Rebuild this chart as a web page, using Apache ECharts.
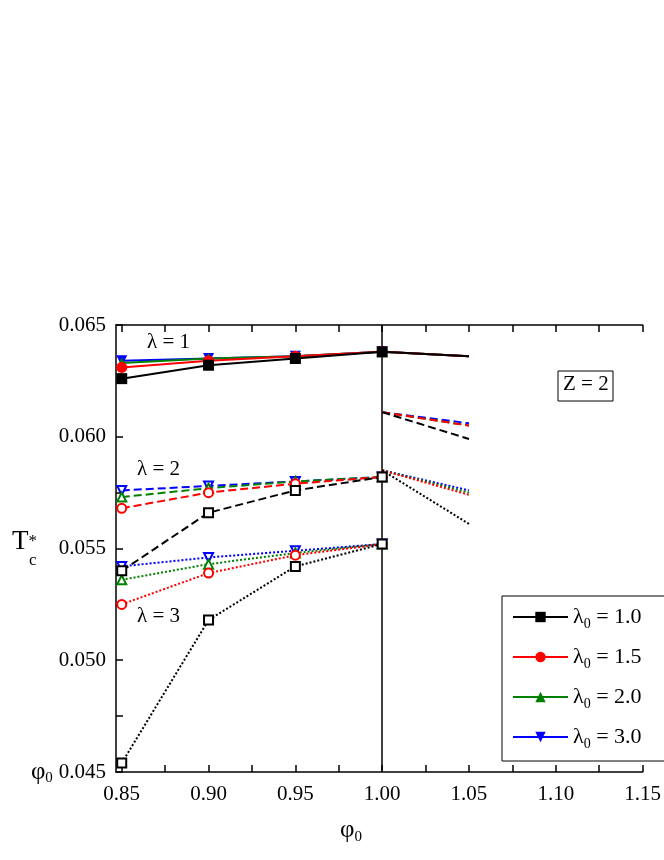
<!DOCTYPE html>
<html><head><meta charset="utf-8">
<script src="https://cdn.jsdelivr.net/npm/echarts@6/dist/echarts.min.js"></script>
<style>html,body{margin:0;padding:0;background:#fff;overflow:hidden}#c{width:664px;height:860px}</style>
</head><body><div id="c"></div>
<script>
const xLeft = [0.85, 0.90, 0.95, 1.00];
const xRight = [1.00, 1.05];
const lambda0 = ['1.0', '1.5', '2.0', '3.0'];
const colors = ['#000000', '#ff0000', '#008000', '#0000ff'];
// Z=1 (left) region
const solid1 = [[0.0626,0.0632,0.0635,0.0638],[0.0631,0.0634,0.0636,0.0638],[0.0633,0.0635,0.0636,0.0638],[0.0634,0.0635,0.0636,0.0638]];
const dashed2 = [[0.0540,0.0566,0.0576,0.0582],[0.0568,0.0575,0.0579,0.0582],[0.0573,0.0577,0.0580,0.0582],[0.0576,0.0578,0.0580,0.0582]];
const dotted3 = [[0.0454,0.0518,0.0542,0.0552],[0.0525,0.0539,0.0547,0.0552],[0.0536,0.0543,0.0548,0.0552],[0.0542,0.0546,0.0549,0.0552]];
// Z=2 (right) region
const solidZ2 = [[0.0638,0.0636],[0.0638,0.0636],[0.0638,0.0636],[0.0638,0.0636]];
const dashedZ2 = [[0.0611,0.0599],[0.0611,0.0605],[0.0611,0.0605],[0.0611,0.0606]];
const dottedZ2 = [[0.0585,0.0561],[0.0585,0.0574],[0.0585,0.0575],[0.0585,0.0576]];

const filled = ['rect','circle','triangle','triangle'];
const empty = ['emptyRect','emptyCircle','emptyTriangle','emptyTriangle'];
const rot = [0,0,0,180];
const F = 'Liberation Serif';
const series = [];
function add(xs, ys, i, type, sym, name, showSym){
  series.push({
    type:'line', name:name, data: xs.map((x,k)=>[x, ys[k]]),
    symbol: sym, showSymbol: showSym, symbolSize: sym.startsWith('empty') ? 9 : 11, symbolRotate: rot[i],
    itemStyle:{color:colors[i], borderWidth: sym.startsWith('empty')?1.5:1},
    lineStyle:{color:colors[i], width:2, type:type},
    z: 10 - i
  });
}
for (let i=0;i<4;i++){
  const n = lambda0[i];
  add(xLeft, solid1[i], i, 'solid', filled[i], n, true);
  add(xLeft, dashed2[i], i, 'dashed', empty[i], n, true);
  add(xLeft, dotted3[i], i, 'dotted', empty[i], n, true);
  add(xRight, solidZ2[i], i, 'solid', filled[i], n, false);
  add(xRight, dashedZ2[i], i, 'dashed', empty[i], n, false);
  add(xRight, dottedZ2[i], i, 'dotted', empty[i], n, false);
}
series[0].markLine = {silent:true, symbol:'none', label:{show:false},
  lineStyle:{color:'#000', width:1.5, type:'solid'}, data:[{xAxis:1.0}]};

const majors = [0.85,0.90,0.95,1.00,1.05,1.10,1.15];
const ticks = [0.85,0.875,0.90,0.925,0.95,0.975,1.00,1.025,1.05,1.075,1.10,1.125,1.15];
const chart = echarts.init(document.getElementById('c'));
chart.setOption({
  animation:false,
  grid:{left:116, top:325, width:932, height:447, containLabel:false},
  xAxis:[{type:'value', min:0.8467, max:1.15,
    axisLine:{lineStyle:{color:'#000', width:1.5}},
    axisTick:{inside:true, length:7, customValues:ticks, lineStyle:{color:'#000',width:1.5}},
    axisLabel:{customValues:majors, formatter:v=>v.toFixed(2), color:'#000', fontFamily:F, fontSize:21, margin:12},
    splitLine:{show:false},
    name:'{a|φ}{b|0}', nameLocation:'start', nameGap:0,
    nameTextStyle:{rich:{a:{fontFamily:F,fontSize:25,color:'#000'},b:{fontFamily:F,fontSize:15,color:'#000',verticalAlign:'bottom',padding:[12,0,0,0]}}}
  },{type:'value', position:'top', min:0.8467, max:1.15,
    axisLine:{lineStyle:{color:'#000', width:1.5}},
    axisTick:{inside:true, length:7, customValues:ticks, lineStyle:{color:'#000',width:1.5}},
    axisLabel:{show:false}, splitLine:{show:false}}],
  yAxis:{type:'value', min:0.045, max:0.065, interval:0.005,
    axisLine:{show:true, lineStyle:{color:'#000', width:1.5}},
    axisTick:{inside:true, length:7, lineStyle:{color:'#000',width:1.5}},
    minorTick:{show:true, splitNumber:2, length:7, lineStyle:{color:'#000',width:1.5}},
    axisLabel:{formatter:v=>v.toFixed(3), color:'#000', fontFamily:F, fontSize:21, margin:10},
    splitLine:{show:false}},
  legend:{orient:'vertical', left:502, top:596, data:lambda0,
    backgroundColor:'#fff', borderColor:'#000', borderWidth:1, padding:[10,120,10,10],
    itemWidth:55, itemHeight:13, itemGap:15,
    formatter:n=>'{l|λ}{s|0}{l| = '+n+'}',
    textStyle:{rich:{l:{fontFamily:F,fontSize:22,color:'#000',lineHeight:24},s:{fontFamily:F,fontSize:14,color:'#000',verticalAlign:'bottom',padding:[14,0,0,0]}}}
  },
  graphic:[
    {type:'text', left:147, top:332, style:{text:'λ = 1', font:'21px "Liberation Serif"', fill:'#000'}},
    {type:'text', left:137, top:459, style:{text:'λ = 2', font:'21px "Liberation Serif"', fill:'#000'}},
    {type:'text', left:137, top:606, style:{text:'λ = 3', font:'21px "Liberation Serif"', fill:'#000'}},
    {type:'rect', shape:{x:558, y:371, width:55, height:30}, style:{fill:'#fff', stroke:'#000', lineWidth:1}, z:100},
    {type:'text', x:563, y:374, z:101, style:{text:'Z = 2', font:'21px "Liberation Serif"', fill:'#000'}},
    {type:'text', left:12, top:528, style:{rich:{a:{fontFamily:F,fontSize:27,color:'#000'},b:{fontFamily:F,fontSize:17,color:'#000'}}, text:'{a|T}{b|*}'}},
    {type:'text', left:29, top:552, style:{text:'c', font:'17px "Liberation Serif"', fill:'#000'}},
    {type:'text', left:340, top:818, style:{rich:{a:{fontFamily:F,fontSize:25,color:'#000'},b:{fontFamily:F,fontSize:15,color:'#000',padding:[14,0,0,0]}}, text:'{a|φ}{b|0}'}}
  ],
  series: series
});
</script></body></html>
